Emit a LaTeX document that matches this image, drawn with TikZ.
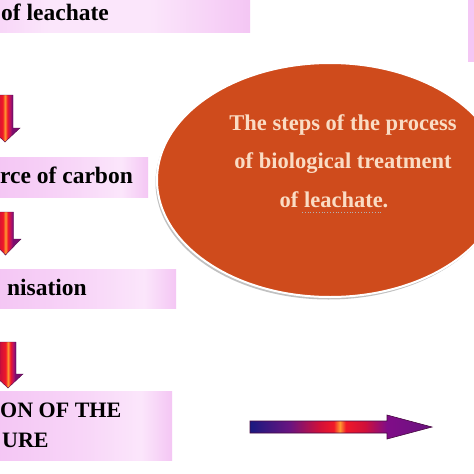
\documentclass[tikz,border=0pt]{standalone}
\usepackage{fontspec}
\setmainfont{Liberation Serif}
\usetikzlibrary{shapes.geometric,shadows}
\definecolor{pkA}{HTML}{F4C6F4}
\definecolor{pkB}{HTML}{F8D6F8}
\definecolor{pkC}{HTML}{FBE6FB}
\definecolor{arRed}{HTML}{D0103A}
\definecolor{arBright}{HTML}{F01828}
\definecolor{arOrange}{HTML}{FF9A30}
\definecolor{arMag}{HTML}{B0106A}
\definecolor{arPurp}{HTML}{7A0F6E}
\definecolor{arNavy}{HTML}{1A1A80}
\definecolor{arViol}{HTML}{6A1480}
\definecolor{arHead}{HTML}{800C88}
\definecolor{ellC}{HTML}{CF4B1C}
\definecolor{ellT}{HTML}{FADCC4}
\pgfdeclarehorizontalshading{boxshade}{100bp}{color(0bp)=(pkA); color(25bp)=(pkA); color(50bp)=(pkB); color(66bp)=(pkC); color(75bp)=(pkA); color(100bp)=(pkA)}
\pgfdeclarehorizontalshading{topshade}{100bp}{color(0bp)=(pkB); color(25bp)=(pkB); color(35bp)=(pkC); color(55bp)=(pkC); color(75bp)=(pkA); color(100bp)=(pkA)}
\pgfdeclarehorizontalshading{dnshade}{100bp}{color(0bp)=(arRed); color(38bp)=(arRed); color(46bp)=(arBright); color(50bp)=(arOrange); color(54bp)=(arBright); color(59bp)=(arMag); color(62bp)=(arPurp); color(100bp)=(arPurp)}
\pgfdeclarehorizontalshading{rtshade}{100bp}{color(0bp)=(arNavy); color(25bp)=(arNavy); color(36bp)=(arViol); color(44bp)=(arRed); color(48bp)=(arBright); color(49.7bp)=(arOrange); color(51.3bp)=(arBright); color(56.6bp)=(arRed); color(62.6bp)=(arHead); color(75bp)=(arViol); color(100bp)=(arViol)}
\begin{document}
\begin{tikzpicture}[x=1pt,y=-1pt,
  boxbase/.style={draw=none, inner sep=0pt, anchor=north west},
  pinkbox/.style={boxbase, shading=boxshade},
  boxtext/.style={font=\fontsize{23.5}{28}\selectfont\bfseries, inner sep=0pt, text=black},
  elltext/.style={font=\fontsize{22.5}{28}\selectfont\bfseries, inner sep=0pt, text=ellT, anchor=base},
  dnarrowstyle/.style={shading=dnshade, draw=arPurp!70!black, line width=0.4pt},
  rtarrowstyle/.style={shading=rtshade, draw=arPurp!60!black, line width=0.6pt}]
\useasboundingbox (0,0) rectangle (474,474);
\clip (0,0) rectangle (474,474);
\fill[white] (0,0) rectangle (474,474);
% pink boxes
\node[boxbase, shading=topshade, minimum width=252pt, minimum height=34pt] (b1) at (-2,-2) {};
\node[pinkbox, minimum width=150pt, minimum height=40pt] (b2) at (-2,157) {};
\node[pinkbox, minimum width=178pt, minimum height=39pt] (b3) at (-2,269) {};
\node[pinkbox, minimum width=174pt, minimum height=69pt] (b4) at (-2,391) {};
\node[boxbase, fill=pkA, minimum width=8pt, minimum height=64pt] (b5) at (468,-2) {};
% box texts
\node[boxtext, anchor=base west] (t1) at (1,20) {of leachate};
\node[boxtext, anchor=base west] (t2) at (0,183) {rce of carbon};
\node[boxtext, anchor=base east] (t3) at (87,295) {nisation};
\node[boxtext, font=\fontsize{22}{26}\selectfont\bfseries, anchor=base west] (t4) at (0,417) {ON OF THE};
\node[boxtext, font=\fontsize{22}{26}\selectfont\bfseries, anchor=base west] (t5) at (2,447) {URE};
% down arrows
\path[dnarrowstyle] (-3,95) -- (13,95) -- (13,128) -- (20,128) -- (5,142) -- (-10,128) -- (-3,128) -- cycle;
\path[dnarrowstyle] (-2.5,212) -- (13.5,212) -- (13.5,239) -- (21,239) -- (5.5,255) -- (-10,239) -- (-2.5,239) -- cycle;
\path[dnarrowstyle] (0,342) -- (16,342) -- (16,374) -- (23,374) -- (8,388) -- (-7,374) -- (0,374) -- cycle;
% right arrow
\path[rtarrowstyle] (250,421) -- (387,421) -- (387,415) -- (432,427) -- (387,439) -- (387,433) -- (250,433) -- cycle;
% ellipse
\node[ellipse, minimum width=346pt, minimum height=234pt, fill=ellC, draw=white, line width=2pt,
  drop shadow={shadow xshift=-1.5pt, shadow yshift=-2.5pt, fill=black!40, opacity=0.6}] (el) at (330,180) {};
\node[elltext] (e1) at (343,130) {The steps of the process};
\node[elltext] (e2) at (343,168) {of biological treatment};
\node[elltext] (e3) at (334,207) {of leachate.};
\draw[dotted, line width=0.8pt, gray!60] (302,212) -- (383,212);
\end{tikzpicture}
\end{document}
